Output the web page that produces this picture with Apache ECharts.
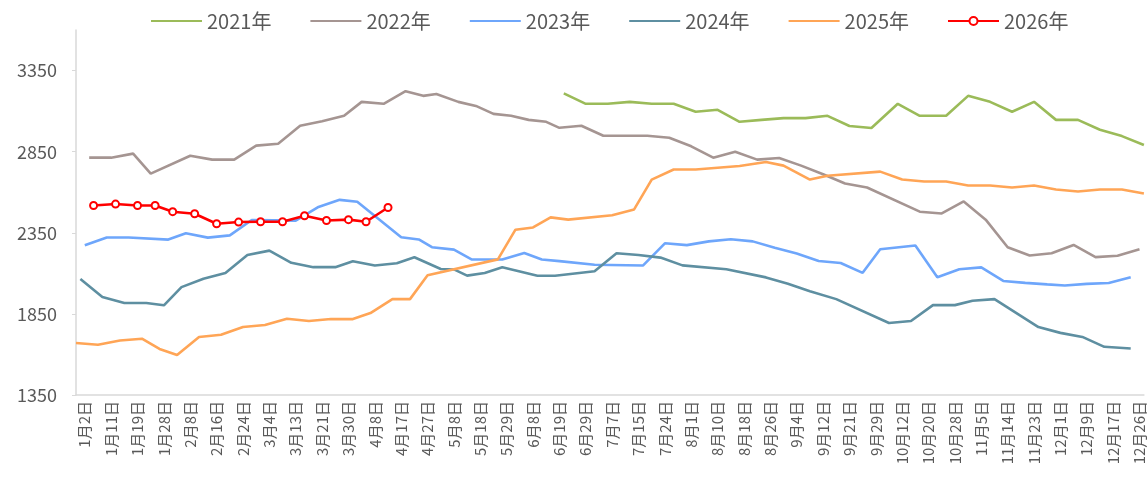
<!DOCTYPE html>
<html>
<head>
<meta charset="utf-8">
<script src="https://cdn.jsdelivr.net/npm/echarts@6.0.0/dist/echarts.min.js"></script>
<style>
  html, body { margin: 0; padding: 0; background: #fff; }
  #main { width: 1147px; height: 488px; }
</style>
</head>
<body>
<div id="main"></div>
<script>
  // x轴标签（每6个交易日一个）
  var dateLabels = ['1月2日','1月11日','1月19日','1月28日','2月8日','2月16日','2月24日','3月4日','3月13日','3月21日',
    '3月30日','4月8日','4月17日','4月27日','5月8日','5月18日','5月29日','6月8日','6月19日','6月29日',
    '7月7日','7月15日','7月24日','8月1日','8月10日','8月18日','8月26日','9月4日','9月12日','9月21日',
    '9月29日','10月12日','10月20日','10月28日','11月5日','11月14日','11月23日','12月1日','12月9日','12月17日','12月26日'];
  var dayCount = 244;     // 交易日数量
  var labelStart = 2;     // 第一个标签所在交易日
  var labelStep = 6;

  var yTicks = [1350, 1850, 2350, 2850, 3350];

  // 各年份：交易日序号 + 数值
  var idx2021 = [111,116,121,126,131,136,141,146,151,156,161,166,171,176,181,187,192,198,203,208,213,218,223,228,233,238,243];
  var val2021 = [3209,3145,3145,3157,3145,3145,3096,3108,3034,3046,3057,3057,3071,3008,2996,3145,3071,3071,3194,3157,3096,3157,3046,3046,2985,2946,2891];

  var idx2022 = [3,8,13,17,26,31,36,41,46,51,56,61,65,70,75,79,82,87,91,95,99,103,107,110,115,120,125,130,135,140,145,150,155,160,165,170,175,180,192,197,202,207,212,217,222,227,232,237,242];
  var val2022 = [2813,2813,2838,2715,2825,2801,2801,2887,2899,3010,3037,3071,3157,3145,3223,3194,3206,3157,3132,3083,3071,3046,3034,2997,3010,2948,2948,2948,2936,2883,2813,2850,2801,2811,2764,2711,2654,2629,2480,2469,2543,2431,2261,2210,2224,2275,2200,2208,2248];

  var idx2023 = [2,7,12,21,25,30,35,40,50,55,60,64,74,78,81,86,90,97,102,106,110,118,129,134,139,144,149,154,159,164,169,174,179,183,191,196,201,206,211,216,221,225,230,235,240];
  var val2023 = [2273,2321,2321,2308,2347,2320,2334,2429,2425,2507,2553,2541,2322,2309,2261,2246,2186,2185,2225,2185,2175,2153,2148,2285,2274,2297,2310,2297,2257,2222,2176,2164,2103,2248,2272,2076,2125,2137,2053,2041,2032,2025,2035,2040,2076];

  var idx2024 = [1,6,11,16,20,24,29,34,39,44,49,54,59,63,68,73,77,83,86,89,93,97,105,109,118,123,128,133,138,148,157,162,167,173,185,190,195,200,204,209,219,224,229,234,240];
  var val2024 = [2065,1954,1917,1917,1903,2015,2067,2102,2213,2240,2165,2138,2138,2175,2148,2162,2199,2127,2124,2086,2102,2137,2085,2085,2113,2224,2213,2197,2149,2125,2075,2036,1990,1941,1794,1806,1904,1904,1931,1941,1769,1733,1708,1647,1637];

  var idx2025 = [0,5,10,15,19,23,28,33,38,43,48,53,58,63,67,72,76,80,96,100,104,108,112,122,127,131,136,141,151,157,161,167,171,183,188,193,198,203,208,213,218,223,228,233,238,243];
  var val2025 = [1671,1660,1686,1697,1634,1596,1708,1721,1769,1782,1820,1806,1818,1818,1855,1941,1941,2088,2186,2369,2383,2445,2431,2458,2494,2678,2740,2740,2762,2786,2764,2678,2702,2727,2678,2666,2666,2641,2641,2629,2641,2617,2604,2617,2617,2592];

  var idx2026 = [4,9,14,18,22,27,32,37,42,47,52,57,62,66,71];
  var val2026 = [2518,2527,2518,2518,2480,2467,2406,2416,2418,2418,2455,2426,2431,2418,2506];

  // 类目轴：只有标签位置有文字
  var categories = [];
  for (var i = 0; i < dayCount; i++) {
    var k = (i - labelStart) / labelStep;
    categories.push(i >= labelStart && k === Math.floor(k) && dateLabels[k] ? dateLabels[k] : '');
  }

  function pairs(idx, val) {
    var out = [];
    for (var i = 0; i < idx.length; i++) out.push([idx[i], val[i]]);
    return out;
  }

  function lineSeries(name, color, idx, val) {
    return {
      name: name,
      type: 'line',
      data: pairs(idx, val),
      showSymbol: false,
      symbol: 'none',
      lineStyle: { color: color, width: 2.6 },
      itemStyle: { color: color },
      emphasis: { disabled: true }
    };
  }

  var font = '"Noto Sans CJK SC", "Noto Sans", sans-serif';
  var chart = echarts.init(document.getElementById('main'), null, { renderer: 'canvas' });

  var s2026 = lineSeries('2026年', '#FF0000', idx2026, val2026);
  s2026.showSymbol = true;
  s2026.symbol = 'circle';
  s2026.symbolSize = 7;
  s2026.itemStyle = { color: '#FFFFFF', borderColor: '#FF0000', borderWidth: 2 };
  s2026.z = 10;

  // 图例：前五年只显示线段
  var plainLine = { color: 'rgba(0,0,0,0)', borderWidth: 0 };

  chart.setOption({
    animation: false,
    textStyle: { fontFamily: font },
    legend: {
      left: 145,
      top: 6,
      itemWidth: 51,
      itemHeight: 10,
      itemGap: 38,
      textStyle: { fontSize: 20, color: '#595959', fontFamily: font },
      data: [
        { name: '2021年', itemStyle: plainLine },
        { name: '2022年', itemStyle: plainLine },
        { name: '2023年', itemStyle: plainLine },
        { name: '2024年', itemStyle: plainLine },
        { name: '2025年', itemStyle: plainLine },
        '2026年'
      ]
    },
    grid: { left: 76, right: 0, top: 30, bottom: 93 },
    xAxis: {
      type: 'category',
      boundaryGap: false,
      data: categories,
      axisLine: { lineStyle: { color: '#D9D9D9', width: 1.5 } },
      axisTick: { show: false },
      axisLabel: {
        interval: 0,
        rotate: 90,
        margin: 6,
        fontSize: 15,
        color: '#595959',
        fontFamily: font
      },
      splitLine: { show: false }
    },
    yAxis: {
      type: 'value',
      min: 1350,
      max: 3600,
      axisLine: { show: true, lineStyle: { color: '#D9D9D9', width: 1.5 } },
      axisTick: { show: true, length: 4, customValues: yTicks, lineStyle: { color: '#D9D9D9' } },
      axisLabel: {
        customValues: yTicks,
        formatter: function (v) { return String(v); },
        fontSize: 18,
        color: '#595959',
        margin: 19,
        fontFamily: font
      },
      splitLine: { show: false }
    },
    series: [
      lineSeries('2021年', '#9BBB59', idx2021, val2021),
      lineSeries('2022年', '#A59592', idx2022, val2022),
      lineSeries('2023年', '#6EA6FB', idx2023, val2023),
      lineSeries('2024年', '#5E8FA1', idx2024, val2024),
      lineSeries('2025年', '#FFA556', idx2025, val2025),
      s2026
    ]
  });
</script>
</body>
</html>
